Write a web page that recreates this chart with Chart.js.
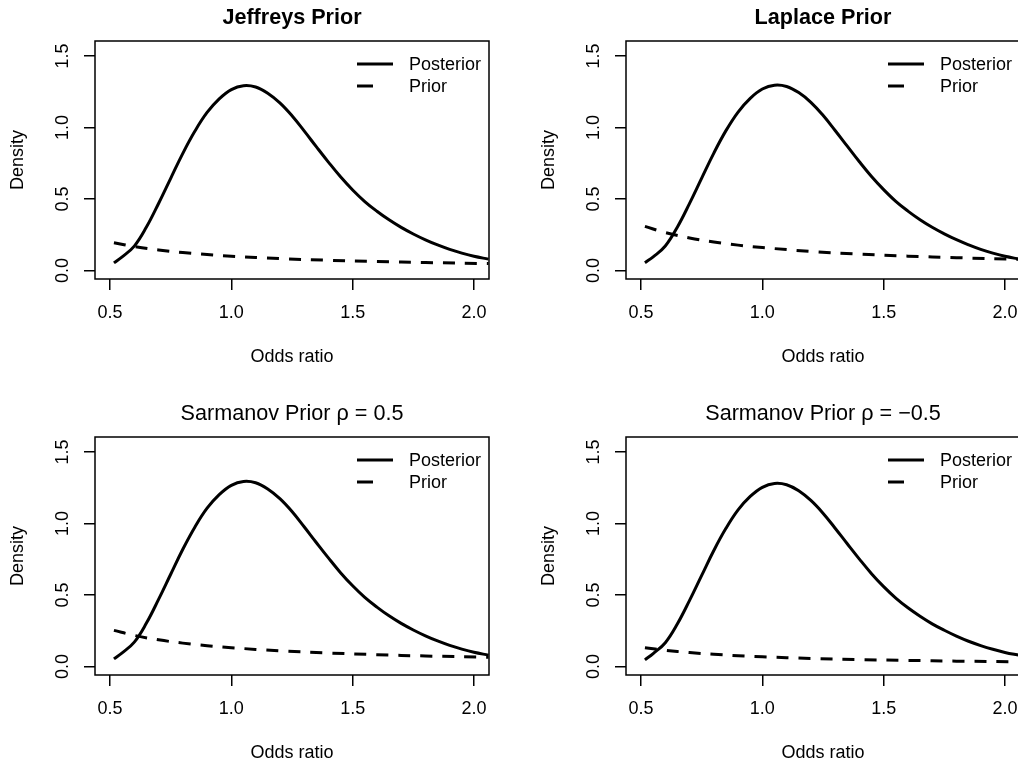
<!DOCTYPE html>
<html>
<head>
<meta charset="utf-8">
<script src="https://cdn.jsdelivr.net/npm/chart.js@4.4.1/dist/chart.umd.min.js"></script>
<style>
body { margin: 0; background: #fff; }
#wrap { position: relative; width: 1018px; height: 765px; overflow: hidden; background: #fff; }
canvas { position: absolute; }
</style>
</head>
<body>
<div id="wrap">
	<canvas id="jeffreys-viz" width="509" height="380" style="left:0px;top:0px;width:509px;height:380px"></canvas>
	<canvas id="laplace-viz" width="509" height="380" style="left:531px;top:0px;width:509px;height:380px"></canvas>
	<canvas id="sarmanov-pos-viz" width="509" height="380" style="left:0px;top:396px;width:509px;height:380px"></canvas>
	<canvas id="sarmanov-neg-viz" width="509" height="380" style="left:531px;top:396px;width:509px;height:380px"></canvas>
</div>
<script>
// Odds ratio grid used for the posterior curves
var xPost = [ 0.516, 0.55, 0.60, 0.65, 0.70, 0.75, 0.80, 0.85, 0.90, 0.95, 1.00, 1.05, 1.10, 1.15, 1.20, 1.25,
              1.30, 1.35, 1.40, 1.45, 1.50, 1.55, 1.60, 1.65, 1.70, 1.75, 1.80, 1.85, 1.90, 1.95, 2.00, 2.06 ];
// Odds ratio grid used for the prior curves
var xPrior = [ 0.516, 0.6, 0.7, 0.8, 0.9, 1.0, 1.2, 1.4, 1.6, 1.8, 2.06 ];

// Posterior densities
var jeffreys_post = [ 0.053, 0.095, 0.170, 0.303, 0.468, 0.644, 0.819, 0.975, 1.105, 1.200, 1.265, 1.292, 1.283, 1.240, 1.172, 1.082,
                      0.976, 0.866, 0.758, 0.655, 0.563, 0.482, 0.414, 0.354, 0.301, 0.255, 0.214, 0.178, 0.147, 0.121, 0.099, 0.079 ];
var laplace_post  = [ 0.054, 0.095, 0.171, 0.304, 0.469, 0.646, 0.821, 0.978, 1.108, 1.204, 1.269, 1.296, 1.287, 1.244, 1.176, 1.085,
                      0.979, 0.869, 0.760, 0.657, 0.565, 0.483, 0.415, 0.355, 0.302, 0.256, 0.215, 0.179, 0.147, 0.121, 0.099, 0.079 ];
var sarm_pos_post = [ 0.053, 0.095, 0.170, 0.303, 0.469, 0.645, 0.820, 0.976, 1.107, 1.202, 1.267, 1.294, 1.285, 1.242, 1.174, 1.084,
                      0.977, 0.867, 0.759, 0.656, 0.564, 0.483, 0.415, 0.354, 0.301, 0.255, 0.214, 0.178, 0.147, 0.121, 0.099, 0.079 ];
var sarm_neg_post = [ 0.046, 0.090, 0.166, 0.298, 0.462, 0.637, 0.811, 0.966, 1.095, 1.189, 1.253, 1.280, 1.271, 1.229, 1.161, 1.072,
                      0.967, 0.858, 0.751, 0.649, 0.558, 0.478, 0.410, 0.351, 0.298, 0.253, 0.212, 0.176, 0.146, 0.120, 0.098, 0.078 ];

// Prior densities
var jeffreys_prior = [ 0.194, 0.167, 0.143, 0.125, 0.111, 0.099, 0.083, 0.071, 0.062, 0.055, 0.048 ];
var laplace_prior  = [ 0.308, 0.265, 0.227, 0.199, 0.177, 0.160, 0.133, 0.114, 0.100, 0.089, 0.078 ];
var sarm_pos_prior = [ 0.252, 0.217, 0.186, 0.163, 0.145, 0.131, 0.109, 0.094, 0.082, 0.073, 0.064 ];
var sarm_neg_prior = [ 0.131, 0.113, 0.097, 0.085, 0.075, 0.067, 0.056, 0.048, 0.042, 0.037, 0.032 ];

// Axis ticks
var xTickValues = [ 0.5, 1.0, 1.5, 2.0 ];
var xTickLabels = [ '0.5', '1.0', '1.5', '2.0' ];
var yTickValues = [ 0.0, 0.5, 1.0, 1.5 ];
var yTickLabels = [ '0.0', '0.5', '1.0', '1.5' ];

var FONT = "'Liberation Sans', Arial, Helvetica, sans-serif";

// Draws the box round the plot region and the R-style legend in the top right corner
var boxAndLegend = {
	id: 'boxAndLegend',
	afterDraw: function(chart) {
		var ctx = chart.ctx, a = chart.chartArea;
		ctx.save();
		ctx.strokeStyle = '#000';
		ctx.lineWidth = 1.5;
		ctx.strokeRect(a.left, a.top, a.right - a.left, a.bottom - a.top);

		var x0 = a.right - 132, xt = a.right - 80;
		chart.data.datasets.forEach(function(ds, i) {
			var y = a.top + 23 + i * 22;
			ctx.lineWidth = 3;
			ctx.setLineDash(i == 0 ? [] : [16, 40]);
			ctx.beginPath();
			ctx.moveTo(x0, y);
			ctx.lineTo(x0 + 36, y);
			ctx.stroke();
			ctx.setLineDash([]);
			ctx.fillStyle = '#000';
			ctx.font = '18px ' + FONT;
			ctx.textBaseline = 'middle';
			ctx.textAlign = 'left';
			ctx.fillText(ds.label, xt, y + 1);
		});
		ctx.restore();
	}
};

function xy(xs, ys) {
	return xs.map(function(x, i) { return { x: x, y: ys[i] }; });
}

function generate_density_viz(canvas_id, chart_title, title_bold, yValues_post, yValues_prior) {
	var post_dataset = {	label: 'Posterior',
							data: xy(xPost, yValues_post),
							borderColor: '#000',
							borderWidth: 3,
							pointRadius: 0,
							fill: false,
							tension: 0.4
						};
	var prior_dataset = {	label: 'Prior',
							data: xy(xPrior, yValues_prior),
							borderColor: '#000',
							borderWidth: 3,
							borderDash: [12, 10],
							pointRadius: 0,
							fill: false,
							tension: 0.4
						};

	var ctx = document.getElementById(canvas_id);
	var cfg = {
		type: 'line',
		data: { datasets: [ post_dataset, prior_dataset ] },
		options: {
			responsive: false,
			animation: false,
			layout: { padding: { left: 0, right: 20, top: 0, bottom: 0 } },
			plugins: {
				legend: { display: false },
				tooltip: { enabled: false },
				title: { display: true,
				         text: chart_title,
				         color: '#000',
				         fullSize: false,
				         font: { family: FONT, size: 21.6, weight: title_bold ? 'bold' : 'normal', lineHeight: 1.2 },
				         padding: { top: 5, bottom: 10.08 }
				}
			},
			scales: {
				x: {
					type: 'linear', min: 0.438, max: 2.062,
					afterBuildTicks: function(s) { s.ticks = xTickValues.map(function(v) { return { value: v }; }); },
					afterFit: function(s) { s.height = 101; },
					grid: { drawOnChartArea: false, drawTicks: true, tickLength: 11, color: '#000', lineWidth: 1.5 },
					border: { display: false },
					ticks: { color: '#000', font: { family: FONT, size: 18 }, padding: 12, maxRotation: 0, autoSkip: false,
					         callback: function(v, i) { return xTickLabels[i]; } },
					title: { display: true, text: 'Odds ratio', color: '#000', font: { family: FONT, size: 18 }, padding: { top: 0, bottom: 12.2 } }
				},
				y: {
					type: 'linear', min: -0.06, max: 1.605,
					afterBuildTicks: function(s) { s.ticks = yTickValues.map(function(v) { return { value: v }; }); },
					afterFit: function(s) { s.width = 95; },
					grid: { drawOnChartArea: false, drawTicks: true, tickLength: 11, color: '#000', lineWidth: 1.5 },
					border: { display: false },
					ticks: { color: '#000', font: { family: FONT, size: 18 }, padding: 8.5, minRotation: 90, maxRotation: 90,
					         crossAlign: 'center', autoSkip: false,
					         callback: function(v, i) { return yTickLabels[i]; } },
					title: { display: true, text: 'Density', color: '#000', font: { family: FONT, size: 18 }, padding: { top: 7.2, bottom: 0 } }
				}
			}
		},
		plugins: [ boxAndLegend ]
	};
	new Chart(ctx, cfg);
} // generate_density_viz

generate_density_viz('jeffreys-viz', 'Jeffreys Prior', true, jeffreys_post, jeffreys_prior);
generate_density_viz('laplace-viz', 'Laplace Prior', true, laplace_post, laplace_prior);
generate_density_viz('sarmanov-pos-viz', 'Sarmanov Prior \u03C1 = 0.5', false, sarm_pos_post, sarm_pos_prior);
generate_density_viz('sarmanov-neg-viz', 'Sarmanov Prior \u03C1 = \u22120.5', false, sarm_neg_post, sarm_neg_prior);
</script>
</body>
</html>
